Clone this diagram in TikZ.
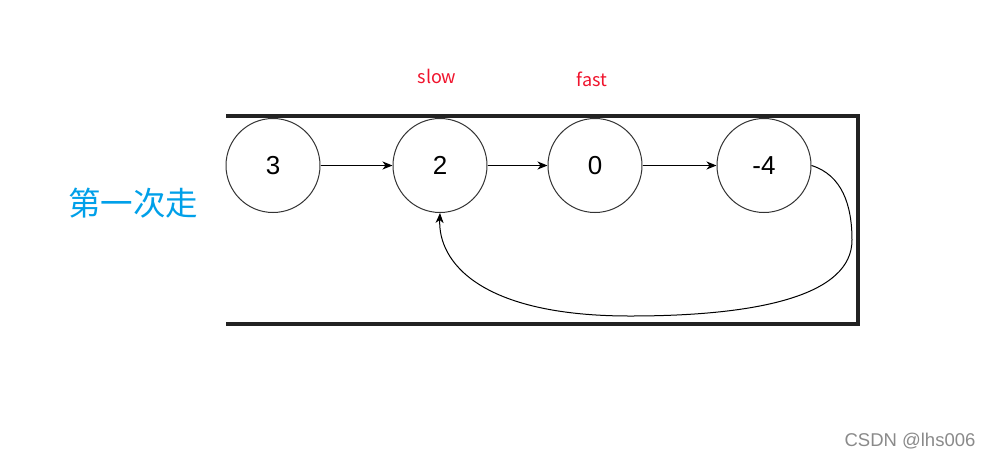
\documentclass[tikz,border=0pt]{standalone}
\usepackage{fontspec}
\setmainfont{Liberation Sans}
\newfontfamily\cjk{Noto Sans CJK SC}
\usetikzlibrary{arrows.meta}
\definecolor{boxc}{HTML}{222222}
\definecolor{circc}{HTML}{333333}
\definecolor{redc}{HTML}{F0142D}
\definecolor{bluec}{HTML}{00A0E9}
\definecolor{grayc}{HTML}{8A8A8A}
\tikzset{
  lnode/.style={circle, draw=circc, line width=1pt, minimum size=94pt, inner sep=0pt, font=\fontsize{26}{30}\selectfont},
  link/.style={draw=black, line width=1pt, -{Stealth[length=10pt,width=8pt,inset=3pt]}},
  ptr/.style={text=redc, font=\cjk\fontsize{18}{21}\selectfont},
  frame/.style={draw=boxc, line width=4pt, line join=miter}
}
\begin{document}
\begin{tikzpicture}[x=1pt,y=-1pt]
\useasboundingbox (0,0) rectangle (989,459);
\fill[white] (0,0) rectangle (989,459);
\coordinate (tl) at (226,115.5);
\coordinate (tr) at (858,115.5);
\coordinate (br) at (858,323.5);
\coordinate (bl) at (226,323.5);
\draw[frame] (tl) -- (tr) -- (br) -- (bl);
\node[lnode] (n3) at (273,165.5) {3};
\node[lnode] (n2) at (440,165.5) {2};
\node[lnode] (n0) at (595,165.5) {0};
\node[lnode] (nm4) at (764,165.5) {-4};
\draw[link] (n3) -- (n2);
\draw[link] (n2) -- (n0);
\draw[link] (n0) -- (nm4);
\coordinate (b1) at (852,240);
\coordinate (b2) at (630,316);
\draw[link] (nm4.east) .. controls (842,175) and (852,205) .. (b1)
  .. controls (852,295) and (760,316) .. (b2)
  .. controls (480,316) and (438,262) .. (n2.south);
\node[ptr] (slow) at (437,76) {slow};
\node[ptr] (fast) at (592,79) {fast};
\node[text=bluec, font=\cjk\fontsize{32.5}{36}\selectfont] (first) at (133,203) {第一次走};
\node[text=grayc, font=\fontsize{18.5}{22}\selectfont] (wm) at (910,441) {CSDN @lhs006};
\end{tikzpicture}
\end{document}
